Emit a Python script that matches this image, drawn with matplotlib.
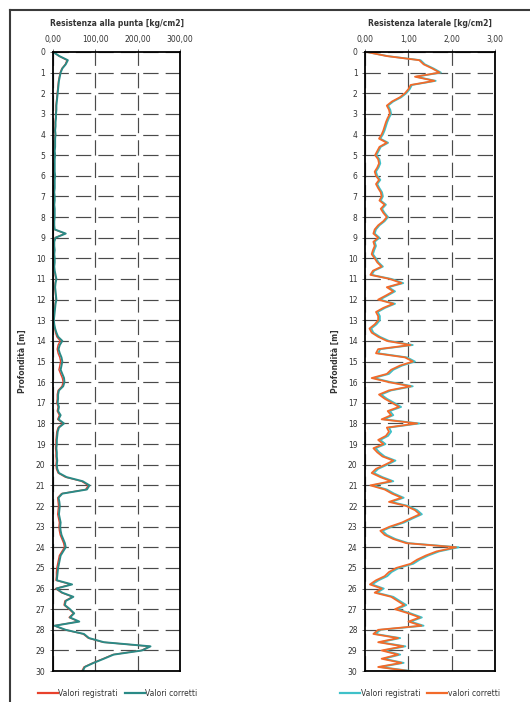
import matplotlib.pyplot as plt
import numpy as np
from matplotlib.lines import Line2D

# profondita' ogni 20 cm, da 0 a 30 m
depth = np.round(np.arange(151) * 0.2, 1)

# resistenza alla punta [kg/cm2]
punta_corretti = [
    0, 15, 35, 30, 22, 18, 16, 14, 13, 12,
    11, 10, 9, 8, 8, 7, 7, 6, 6, 5,
    6, 5, 5, 5, 4, 5, 4, 4, 4, 4,
    5, 4, 4, 4, 3, 4, 4, 3, 4, 4,
    4, 3, 3, 4, 30, 6, 3, 3, 4, 3,
    4, 4, 3, 4, 6, 8, 6, 5, 6, 7,
    8, 6, 5, 4, 3, 2, 3, 5, 8, 12,
    22, 16, 13, 16, 20, 22, 20, 18, 22, 26,
    27, 24, 14, 12, 12, 11, 14, 12, 18, 13,
    26, 14, 11, 10, 9, 9, 8, 9, 9, 10,
    9, 10, 14, 32, 70, 86, 80, 22, 13, 15,
    16, 15, 14, 16, 18, 17, 18, 20, 24, 28,
    30, 24, 18, 16, 14, 12, 11, 10, 9, 45,
    8, 22, 48, 30, 28, 40, 50, 40, 62, 4,
    30, 73, 85, 120, 230, 210, 143, 120, 96, 75,
    70,
]
punta_registrati = [
    0, 14, 33, 29, 21, 17, 15, 13, 12, 11,
    10, 9, 8, 7, 7, 6, 6, 5, 5, 4,
    5, 4, 4, 4, 3, 4, 3, 3, 3, 3,
    4, 3, 3, 3, 2, 3, 3, 2, 3, 3,
    3, 2, 2, 3, 28, 5, 2, 2, 3, 2,
    3, 3, 2, 3, 5, 7, 5, 4, 5, 6,
    7, 5, 4, 3, 2, 1, 2, 4, 6, 9,
    17, 12, 10, 12, 16, 18, 16, 14, 18, 22,
    24, 21, 12, 10, 10, 9, 12, 10, 15, 11,
    23, 12, 9, 8, 7, 7, 6, 7, 7, 8,
    7, 8, 12, 29, 67, 83, 77, 20, 11, 12,
    13, 12, 11, 13, 15, 14, 15, 17, 21, 25,
    27, 21, 15, 13, 11, 9, 8, 8, 7, 42,
    6, 20, 46, 28, 26, 38, 48, 38, 60, 3,
    28, 71, 83, 118, 228, 208, 141, 118, 94, 73,
    68,
]

# resistenza laterale [kg/cm2]
laterale_corretti = [
    0.03, 0.50, 1.25, 1.35, 1.55, 1.72, 1.15, 1.60, 1.05, 1.00,
    0.92, 0.80, 0.62, 0.50, 0.55, 0.57, 0.52, 0.48, 0.45, 0.42,
    0.38, 0.32, 0.50, 0.33, 0.28, 0.23, 0.30, 0.32, 0.28, 0.22,
    0.25, 0.32, 0.25, 0.30, 0.36, 0.38, 0.33, 0.45, 0.36, 0.42,
    0.50, 0.42, 0.30, 0.22, 0.19, 0.30, 0.19, 0.22, 0.18, 0.15,
    0.22, 0.28, 0.38, 0.18, 0.12, 0.57, 0.84, 0.50, 0.65, 0.48,
    0.30, 0.65, 0.42, 0.25, 0.30, 0.30, 0.22, 0.10, 0.15, 0.30,
    0.50, 1.05, 0.30, 0.25, 0.92, 1.10, 0.80, 0.60, 0.50, 0.15,
    0.55, 1.05, 0.55, 0.32, 0.45, 0.62, 0.78, 0.52, 0.60, 0.38,
    1.20, 0.50, 0.55, 0.48, 0.30, 0.42, 0.19, 0.28, 0.40, 0.65,
    0.46, 0.25, 0.15, 0.35, 0.60, 0.12, 0.45, 0.62, 0.84, 0.55,
    0.95, 1.15, 1.26, 1.05, 0.85, 0.57, 0.35, 0.45, 0.65, 0.95,
    2.10, 1.65, 1.40, 1.20, 1.05, 0.72, 0.55, 0.45, 0.25, 0.11,
    0.38, 0.22, 0.60, 0.75, 0.90, 0.69, 1.00, 1.26, 1.00, 1.30,
    0.30, 0.19, 0.76, 0.30, 0.88, 0.38, 0.76, 0.38, 0.84, 0.30,
    1.03,
]
laterale_registrati = [
    0.03, 0.52, 1.28, 1.38, 1.58, 1.75, 1.18, 1.63, 1.08, 1.03,
    0.95, 0.83, 0.65, 0.53, 0.58, 0.60, 0.55, 0.51, 0.48, 0.45,
    0.41, 0.35, 0.53, 0.36, 0.31, 0.26, 0.33, 0.35, 0.31, 0.25,
    0.28, 0.35, 0.28, 0.33, 0.39, 0.41, 0.36, 0.48, 0.39, 0.45,
    0.53, 0.45, 0.33, 0.25, 0.22, 0.33, 0.22, 0.25, 0.21, 0.18,
    0.25, 0.31, 0.41, 0.21, 0.15, 0.61, 0.88, 0.54, 0.69, 0.52,
    0.34, 0.69, 0.46, 0.29, 0.34, 0.34, 0.26, 0.14, 0.19, 0.34,
    0.55, 1.10, 0.35, 0.30, 0.97, 1.15, 0.85, 0.65, 0.55, 0.20,
    0.60, 1.10, 0.60, 0.37, 0.50, 0.67, 0.83, 0.57, 0.65, 0.43,
    1.25, 0.55, 0.60, 0.53, 0.35, 0.47, 0.24, 0.33, 0.45, 0.70,
    0.51, 0.30, 0.20, 0.40, 0.65, 0.17, 0.50, 0.67, 0.89, 0.60,
    1.00, 1.20, 1.31, 1.10, 0.90, 0.62, 0.40, 0.50, 0.70, 1.00,
    2.16, 1.71, 1.46, 1.26, 1.11, 0.78, 0.61, 0.51, 0.31, 0.16,
    0.43, 0.27, 0.65, 0.80, 0.95, 0.74, 1.05, 1.31, 1.05, 1.35,
    0.35, 0.24, 0.81, 0.35, 0.93, 0.43, 0.81, 0.43, 0.89, 0.35,
    1.08,
]

punta_ticks = [0, 100, 200, 300]
punta_labels = ['0,00', '100,00', '200,00', '300,00']
laterale_ticks = [0, 1, 2, 3]
laterale_labels = ['0,00', '1,00', '2,00', '3,00']
depth_ticks = list(range(0, 31))

fig = plt.figure(figsize=(5.30, 7.02), dpi=100)

# cornice della pagina
fig.add_artist(Line2D([0.019, 1.0], [0.986, 0.986], color='#3a3a3a', lw=1.5))
fig.add_artist(Line2D([0.019, 0.019], [0.0, 0.986], color='#3a3a3a', lw=1.5))

ax1 = fig.add_axes([0.100, 0.044, 0.240, 0.882])
ax2 = fig.add_axes([0.689, 0.044, 0.245, 0.882])


def setup(ax, title, xmax, ticks, labels):
    ax.set_xlim(0, xmax)
    ax.set_ylim(30, 0)
    ax.xaxis.tick_top()
    ax.xaxis.set_label_position('top')
    ax.set_xticks(ticks)
    ax.set_xticklabels(labels, fontsize=5.5, color='#333333')
    ax.set_yticks(depth_ticks)
    ax.set_yticklabels([str(d) for d in depth_ticks], fontsize=5.5, color='#333333')
    ax.tick_params(axis='both', length=2.5, width=0.6, pad=3, colors='#555555',
                   labelcolor='#333333')
    ax.set_xlabel(title, fontsize=5.5, fontweight='bold', color='#333333', labelpad=7)
    ax.set_ylabel('Profondità [m]', fontsize=5.5, fontweight='bold', color='#333333',
                  labelpad=6)
    ax.grid(True, color='#4a4a4a', lw=0.85, linestyle=(0, (13, 6)))
    ax.set_axisbelow(True)
    for s in ax.spines.values():
        s.set_linewidth(1.3)
        s.set_color('black')


setup(ax1, 'Resistenza alla punta [kg/cm2]', 300, punta_ticks, punta_labels)
setup(ax2, 'Resistenza laterale [kg/cm2]', 3, laterale_ticks, laterale_labels)

ax1.plot(punta_registrati, depth, color='#e8412c', lw=1.0, label='Valori registrati')
ax1.plot(punta_corretti, depth, color='#2a8a86', lw=1.4, label='Valori corretti')

ax2.plot(laterale_registrati, depth, color='#3fc1c9', lw=1.3, label='Valori registrati')
ax2.plot(laterale_corretti, depth, color='#f26a2a', lw=1.3, label='valori corretti')

for ax, cx in ((ax1, 0.222), (ax2, 0.793)):
    leg = ax.legend(loc='center', bbox_to_anchor=(cx, 0.012),
                    bbox_transform=fig.transFigure, ncol=2, frameon=False,
                    fontsize=5.5, handlelength=2.6, handletextpad=0.1,
                    columnspacing=0.9, labelcolor='#333333')
    for h in leg.get_lines():
        h.set_linewidth(1.6)

fig.savefig('out.png', dpi=100)
